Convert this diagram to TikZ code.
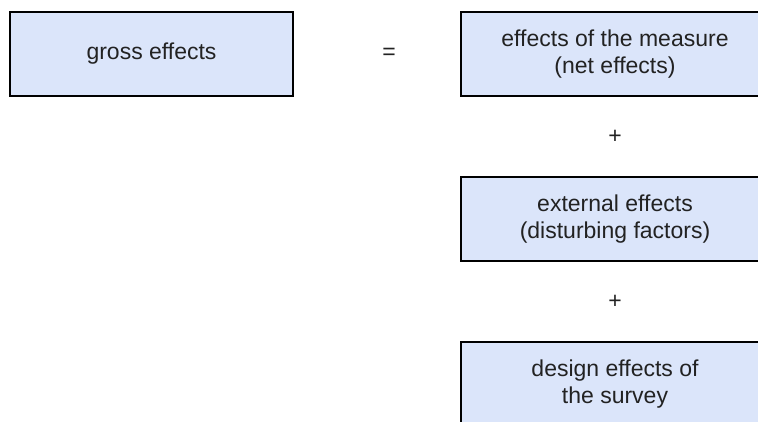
\documentclass[tikz,border=0pt]{standalone}
\usepackage{fontspec}
\setmainfont{Liberation Sans}
\usepackage{tikz}
\usetikzlibrary{positioning}

\definecolor{boxfill}{HTML}{DBE5FA}
\definecolor{textgray}{HTML}{222222}

\tikzset{
 effbox/.style={draw=black,line width=1.3pt,fill=boxfill,text=textgray,
  minimum height=84pt,align=center,inner sep=0pt,
  font=\fontsize{23}{27}\selectfont},
 sign/.style={text=textgray,font=\fontsize{23}{27}\selectfont}
}

\begin{document}
\begin{tikzpicture}[x=1pt,y=1pt]
 \useasboundingbox (0,0) rectangle (758,421);
 % left side
 \node[effbox,minimum width=283pt] (gross) at (151.5,367) {gross effects};
 \node[sign] (eq) at (389,367) {=};
 % right side
 \node[effbox,minimum width=308pt] (net) at (615,367) {effects of the measure\\(net effects)};
 \node[sign] (plusA) at (615,284) {+};
 \node[effbox,minimum width=308pt] (ext) at (615,202) {external effects\\(disturbing factors)};
 \node[sign] (plusB) at (615,119) {+};
 \node[effbox,minimum width=308pt] (design) at (615,37) {design effects of\\the survey};
\end{tikzpicture}
\end{document}
